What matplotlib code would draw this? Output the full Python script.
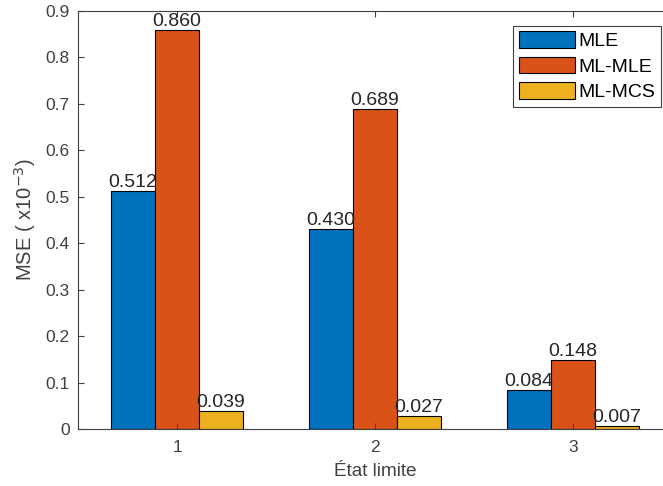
import numpy as np
import matplotlib.pyplot as plt

plt.rcParams['font.family'] = ['Liberation Sans', 'DejaVu Sans']

# ---- Data ----
states = [1, 2, 3]
series = ['MLE', 'ML-MLE', 'ML-MCS']
mle = [0.512, 0.430, 0.084]
ml_mle = [0.860, 0.689, 0.148]
ml_mcs = [0.039, 0.027, 0.007]
colors = ['#0072BD', '#D95319', '#EDB120']

# ---- Plot ----
fig = plt.figure(figsize=(6.63, 4.86), dpi=100)
ax = fig.add_axes([78 / 663, 57 / 486, 594 / 663, 418 / 486])

x = np.array(states, dtype=float)
w = 0.2222
grey = '#404040'
for i, (name, vals, c) in enumerate(zip(series, [mle, ml_mle, ml_mcs], colors)):
    pos = x + (i - 1) * w
    ax.bar(pos, vals, width=w, color=c, edgecolor='black',
           linewidth=0.8, label=name)
    for xp, v in zip(pos, vals):
        ax.text(xp, v, f'{v:.3f}', ha='center', va='bottom',
                fontsize=14, color='#262626')

ax.set_xlim(0.5, 3.5)
ax.set_ylim(0, 0.9)
ax.set_xticks(states)
ax.set_yticks(np.arange(0, 0.91, 0.1))
ax.set_yticklabels(['0'] + [f'{t:.1f}' for t in np.arange(0.1, 0.91, 0.1)])
ax.tick_params(direction='in', top=True, right=False, labelsize=12.5,
               colors=grey, length=4)
ax.tick_params(axis='x', pad=8)
ax.tick_params(axis='y', pad=6)
for s in ['left', 'bottom', 'top']:
    ax.spines[s].set_color(grey)
    ax.spines[s].set_linewidth(0.8)
ax.spines['right'].set_visible(False)

ax.set_xlabel('État limite', fontsize=13.7, color=grey)
ax.set_ylabel('MSE ( x10$^{-3}$)', fontsize=14.5, color=grey)
ax.xaxis.set_label_coords(0.5, -0.082)
ax.yaxis.set_label_coords(-0.068, 0.5)

leg = fig.legend(loc='upper right', bbox_to_anchor=(661 / 663, 1 - 26 / 486),
                 fontsize=14, handlelength=2.9, handleheight=0.93,
                 handletextpad=0.2, labelspacing=0.34, borderpad=0.27,
                 borderaxespad=0, fancybox=False, framealpha=1)
leg.get_frame().set_edgecolor(grey)
leg.get_frame().set_linewidth(0.8)

plt.savefig('out.png', dpi=100)
